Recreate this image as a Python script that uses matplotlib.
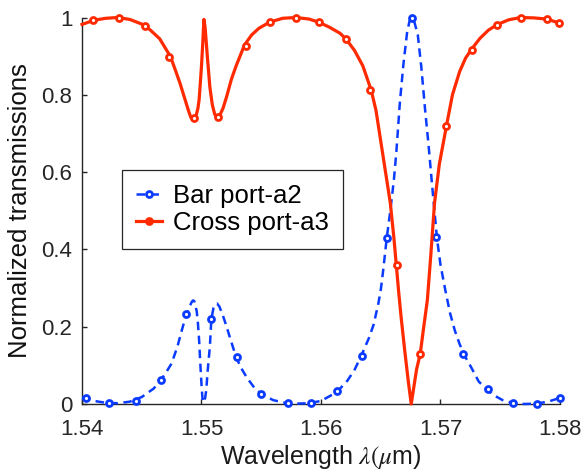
import matplotlib
matplotlib.use("Agg")
import matplotlib.pyplot as plt
from matplotlib.lines import Line2D

plt.rcParams['font.family'] = ['Liberation Sans', 'DejaVu Sans']
plt.rcParams['mathtext.fontset'] = 'stix'

# ---- data ----
bar_wl = [1.5400, 1.5410, 1.5420, 1.5430, 1.5440, 1.5450, 1.5460, 1.5466, 1.5470, 1.5475,
          1.5480, 1.5483, 1.5486, 1.5488, 1.5490, 1.5492, 1.5493, 1.5494, 1.5496, 1.5497,
          1.5498, 1.5499, 1.5500, 1.5501, 1.5502, 1.5503, 1.5504, 1.5505, 1.5506, 1.5507,
          1.5508, 1.5509, 1.5510, 1.5512, 1.5513, 1.5515, 1.5518, 1.5521, 1.5525, 1.5529,
          1.5533, 1.5538, 1.5544, 1.5550, 1.5560, 1.5570, 1.5580, 1.5590, 1.5600, 1.5610,
          1.5616, 1.5622, 1.5628, 1.5634, 1.5640, 1.5644, 1.5648, 1.5650, 1.5652, 1.5655,
          1.5658, 1.5661, 1.5663, 1.5666, 1.5669, 1.5672, 1.5674, 1.5676, 1.5678, 1.5681,
          1.5684, 1.5687, 1.5690, 1.5693, 1.5697, 1.5700, 1.5704, 1.5708, 1.5712, 1.5716,
          1.5720, 1.5726, 1.5732, 1.5738, 1.5745, 1.5752, 1.5760, 1.5770, 1.5780, 1.5790,
          1.5800]
bar_val = [0.016, 0.008, 0.003, 0.002, 0.006, 0.018, 0.040, 0.062, 0.080, 0.105,
           0.150, 0.185, 0.218, 0.235, 0.252, 0.265, 0.268, 0.266, 0.240, 0.209,
           0.165, 0.105, 0.050, 0.006, 0.005, 0.015, 0.036, 0.080, 0.115, 0.148,
           0.205, 0.232, 0.248, 0.259, 0.260, 0.252, 0.228, 0.200, 0.160, 0.121,
           0.094, 0.068, 0.043, 0.026, 0.010, 0.003, 0.001, 0.002, 0.008, 0.025,
           0.040, 0.060, 0.088, 0.127, 0.170, 0.205, 0.260, 0.295, 0.345, 0.429,
           0.500, 0.580, 0.650, 0.780, 0.880, 0.960, 0.990, 1.000, 0.990, 0.955,
           0.870, 0.765, 0.670, 0.565, 0.430, 0.360, 0.295, 0.235, 0.190, 0.155,
           0.126, 0.093, 0.058, 0.040, 0.022, 0.010, 0.003, 0.000, 0.001, 0.006,
           0.016]

cross_wl = [1.5400, 1.5410, 1.5420, 1.5430, 1.5440, 1.5450, 1.5457, 1.5465, 1.5474, 1.5478,
            1.5482, 1.5486, 1.5489, 1.5491, 1.5493, 1.5495, 1.5497, 1.5498, 1.5499, 1.5500,
            1.5501, 1.5502, 1.5503, 1.5504, 1.5505, 1.5507, 1.5509, 1.5511, 1.5513, 1.5515,
            1.5518, 1.5521, 1.5525, 1.5529, 1.5536, 1.5542, 1.5548, 1.5557, 1.5568, 1.5579,
            1.5590, 1.5598, 1.5607, 1.5616, 1.5621, 1.5628, 1.5635, 1.5642, 1.5646, 1.5649,
            1.5653, 1.5656, 1.5658, 1.5661, 1.5663, 1.5665, 1.5667, 1.5670, 1.5673, 1.56755,
            1.5678, 1.5680, 1.5683, 1.5686, 1.5689, 1.5692, 1.5695, 1.5699, 1.5705, 1.5710,
            1.5716, 1.5721, 1.5726, 1.5733, 1.5740, 1.5747, 1.5757, 1.5767, 1.5778, 1.5789,
            1.5800]
cross_val = [0.982, 0.993, 0.998, 1.000, 0.995, 0.983, 0.968, 0.945, 0.899, 0.865,
             0.830, 0.790, 0.760, 0.742, 0.735, 0.740, 0.765, 0.787, 0.830, 0.875,
             0.930, 0.995, 0.975, 0.935, 0.895, 0.820, 0.775, 0.750, 0.741, 0.745,
             0.765, 0.795, 0.840, 0.875, 0.929, 0.955, 0.972, 0.988, 0.998, 1.000,
             0.996, 0.988, 0.975, 0.959, 0.944, 0.915, 0.875, 0.812, 0.760, 0.700,
             0.620, 0.560, 0.520, 0.430, 0.360, 0.290, 0.226, 0.140, 0.060, 0.000,
             0.050, 0.090, 0.129, 0.200, 0.269, 0.390, 0.520, 0.620, 0.720, 0.800,
             0.860, 0.895, 0.918, 0.946, 0.967, 0.981, 0.994, 1.000, 0.999, 0.996,
             0.985]

bar_mk_wl = [1.5403, 1.5423, 1.5445, 1.5466, 1.5487, 1.5508, 1.5530, 1.5550, 1.5572, 1.5592,
             1.5613, 1.5634, 1.5655, 1.5676, 1.5696, 1.5719, 1.5740, 1.5761, 1.5781, 1.5800]
bar_mk_val = [0.016, 0.003, 0.008, 0.062, 0.233, 0.220, 0.122, 0.026, 0.003, 0.003,
              0.034, 0.124, 0.430, 1.000, 0.432, 0.130, 0.039, 0.003, 0.000, 0.016]

cross_mk_wl = [1.5409, 1.5431, 1.5453, 1.5473, 1.5494, 1.5514, 1.5537, 1.5557, 1.5579, 1.5598,
               1.5621, 1.5641, 1.5664, 1.5683, 1.5705, 1.5726, 1.5747, 1.5767, 1.5789, 1.5799]
cross_mk_val = [0.993, 1.000, 0.979, 0.899, 0.739, 0.743, 0.927, 0.988, 1.000, 0.988,
                0.944, 0.812, 0.360, 0.129, 0.720, 0.916, 0.981, 1.000, 0.996, 0.985]

labels = ['Bar port-a2', 'Cross port-a3']
xticks = [1.54, 1.55, 1.56, 1.57, 1.58]
xticklabels = ['1.54', '1.55', '1.56', '1.57', '1.58']
yticks = [0, 0.2, 0.4, 0.6, 0.8, 1.0]
yticklabels = ['0', '0.2', '0.4', '0.6', '0.8', '1']

# ---- style ----
BLUE = '#0A3BFF'
RED = '#FF2A00'
AXC = '#262626'

fig = plt.figure(figsize=(5.82, 4.75), dpi=100)
ax = fig.add_axes([82/582, 1-404/475, 478/582, 386.5/475])

ax.plot(bar_wl, bar_val, color=BLUE, lw=1.8, dashes=(3.4, 2.2), clip_on=False, zorder=3)
ax.plot(bar_mk_wl, bar_mk_val, ls='none', marker='o', ms=4.3, mew=2.0,
        mec=BLUE, mfc='white', clip_on=False, zorder=4)
ax.plot(cross_wl, cross_val, color=RED, lw=2.3, clip_on=False, zorder=5)
ax.plot(cross_mk_wl, cross_mk_val, ls='none', marker='o', ms=4.3, mew=2.0,
        mec=RED, mfc='white', clip_on=False, zorder=6)

ax.set_xlim(1.54, 1.58)
ax.set_ylim(0, 1)
ax.set_xticks(xticks)
ax.set_xticklabels(xticklabels)
ax.set_yticks(yticks)
ax.set_yticklabels(yticklabels)
for s in ['top', 'right']:
    ax.spines[s].set_visible(False)
for s in ['left', 'bottom']:
    ax.spines[s].set_color(AXC)
    ax.spines[s].set_linewidth(1.0)
ax.tick_params(direction='in', length=3.6, width=1.0, color=AXC,
               labelsize=16, labelcolor=AXC)
ax.tick_params(axis='y', pad=7)
ax.tick_params(axis='x', pad=11)

ax.set_xlabel(r'Wavelength $\lambda(\mu$m)', fontsize=18, color='#1a1a1a', labelpad=2)
ax.set_ylabel('Normalized transmissions', fontsize=18.5, color='#111111', labelpad=7)

h1 = Line2D([], [], color=BLUE, lw=1.8, dashes=(3.4, 2.2), marker='o', ms=4.3, mew=2.0,
            mec=BLUE, mfc='white')
h2 = Line2D([], [], color=RED, lw=2.3, marker='o', ms=4.3, mew=2.0, mec=RED, mfc=RED)
leg = ax.legend([h1, h2], labels, loc='upper left',
                bbox_to_anchor=((122-82)/478, (404-170)/386.5),
                borderaxespad=0, fontsize=18.5, frameon=True, fancybox=False,
                edgecolor=AXC, framealpha=1, borderpad=0.55, labelspacing=0.1,
                handlelength=1.0, handletextpad=0.45)
leg.get_frame().set_linewidth(0.9)

fig.savefig('out.png', dpi=100)
